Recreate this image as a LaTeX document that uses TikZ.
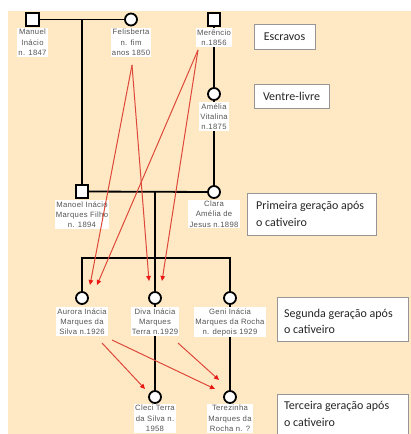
\documentclass[tikz,border=0pt]{standalone}
\usepackage{fontspec}
\setmainfont{Liberation Sans}
\newfontfamily\lblfont[LetterSpace=4]{Liberation Sans}
\newfontfamily\boxfont{Carlito}
\usetikzlibrary{arrows.meta}
\definecolor{cream}{RGB}{254,233,196}
\definecolor{lblgray}{RGB}{85,85,85}
\definecolor{redline}{RGB}{222,72,58}
\definecolor{redhead}{RGB}{235,25,20}
\definecolor{boxborder}{RGB}{150,150,150}
\begin{document}
\begin{tikzpicture}[x=1pt,y=-1pt,
 fam/.style={line width=1.8pt, black},
 fem/.style={circle, draw=black, line width=1.8pt, fill=white, minimum size=12pt, inner sep=0pt},
 masc/.style={rectangle, draw=black, line width=1.8pt, fill=white, minimum size=12.5pt, inner sep=0pt},
 lbl/.style={fill=white, inner sep=1.2pt, align=center, font=\lblfont\fontsize{7.7}{10.3}\selectfont, text=lblgray, anchor=north},
 rel/.style={redline, line width=1pt, -{Triangle[length=5pt,width=4.5pt,color=redhead]}},
 gen/.style={draw=boxborder, line width=1pt, fill=white, inner sep=0pt},
 gentext/.style={font=\boxfont\fontsize{12}{16.5}\selectfont, text=black!85, align=left, anchor=west, inner sep=0pt}
]
\useasboundingbox (0,0) rectangle (411,434);
\fill[white] (0,0) rectangle (411,434);
\fill[cream] (8,11) rectangle (411,434);

% people
\node[masc] (manuel) at (32.5,19.5) {};
\node[fem] (felis) at (131,19.5) {};
\node[masc] (meren) at (214,19.5) {};
\node[fem] (amelia) at (214,94) {};
\node[masc] (manoelf) at (82,191.5) {};
\node[fem] (clara) at (214,192) {};
\node[fem] (aurora) at (82,298) {};
\node[fem] (diva) at (155,298) {};
\node[fem] (geni) at (230,298) {};
\node[fem] (cleci) at (155,397) {};
\node[fem] (terez) at (230,397) {};

\coordinate (c0) at (82,19.5);
\coordinate (c1) at (155,191.5);
\coordinate (sibL) at (82,258);
\coordinate (sibR) at (230,258);

% family lines
\draw[fam] (manuel) -- (felis);
\draw[fam] (c0) -- (manoelf);
\draw[fam] (meren) -- (amelia);
\draw[fam] (amelia) -- (clara);
\draw[fam] (manoelf) -- (clara);
\draw[fam] (c1) -- (diva);
\draw[fam] (aurora) -- (sibL) -- (sibR) -- (geni);
\draw[fam] (diva) -- (cleci);
\draw[fam] (geni) -- (terez);

% labels
\node[lbl] (lmanuel) at (32.5,28) {Manuel\\Inácio\\n. 1847};
\node[lbl] (lfelis) at (131,28) {Felisberta\\n. fim\\anos 1850};
\node[lbl] (lmeren) at (214,28) {Merêncio\\n.1856};
\node[lbl] (lamelia) at (214,102) {Amélia\\Vitalina\\n.1875};
\node[lbl] (lmanoelf) at (82,200) {Manoel Inácio\\Marques Filho\\n. 1894};
\node[lbl] (lclara) at (214,199.5) {Clara\\Amélia de\\Jesus n.1898};
\node[lbl] (laurora) at (82,307) {Aurora Inácia\\Marques da\\Silva n.1926};
\node[lbl] (ldiva) at (155,307) {Diva Inácia\\Marques\\Terra n.1929};
\node[lbl] (lgeni) at (230,307) {Geni Inácia\\Marques da Rocha\\n. depois 1929};
\node[lbl] (lcleci) at (155,404) {Cleci Terra\\da Silva n.\\1958};
\node[lbl] (lterez) at (230,404) {Terezinha\\Marques da\\Rocha n. ?};

% red relation arrows
\coordinate (fs) at (132,65);
\coordinate (ms) at (198,50);
\coordinate (a1) at (90,285);
\coordinate (a2) at (97,285);
\coordinate (d1) at (149,281);
\coordinate (d2) at (162,281);
\draw[rel] (fs) -- (a1);
\draw[rel] (fs) -- (d1);
\draw[rel] (ms) -- (a2);
\draw[rel] (ms) -- (d2);
\coordinate (as1) at (102,343);
\coordinate (as2) at (112,340);
\coordinate (ds) at (178,343);
\coordinate (ct) at (145,389);
\coordinate (t1) at (215,389);
\coordinate (t2) at (219,380);
\draw[rel] (as1) -- (ct);
\draw[rel] (as2) -- (t1);
\draw[rel] (ds) -- (t2);

% generation boxes
\node[gen, minimum width=61pt, minimum height=25pt, font=\boxfont\fontsize{12}{16}\selectfont, text=black!85] (escr) at (284.5,36.5) {Escravos};
\node[gen, minimum width=75pt, minimum height=24pt, font=\boxfont\fontsize{12}{16}\selectfont, text=black!85] (ventre) at (291.5,96) {Ventre-livre};
\node[gen, anchor=north west, minimum width=129pt, minimum height=42pt] (b1) at (247,193) {};
\node[gentext] (tb1) at (256,214) {Primeira geração após\\o cativeiro};
\node[gen, anchor=north west, minimum width=131pt, minimum height=44pt] (b2) at (277,297) {};
\node[gentext] (tb2) at (284,321.5) {Segunda geração após\\o cativeiro};
\node[gen, anchor=north west, minimum width=131pt, minimum height=52pt] (b3) at (277,394) {};
\node[gentext] (tb3) at (284,414) {Terceira geração após\\o cativeiro};
\end{tikzpicture}
\end{document}
